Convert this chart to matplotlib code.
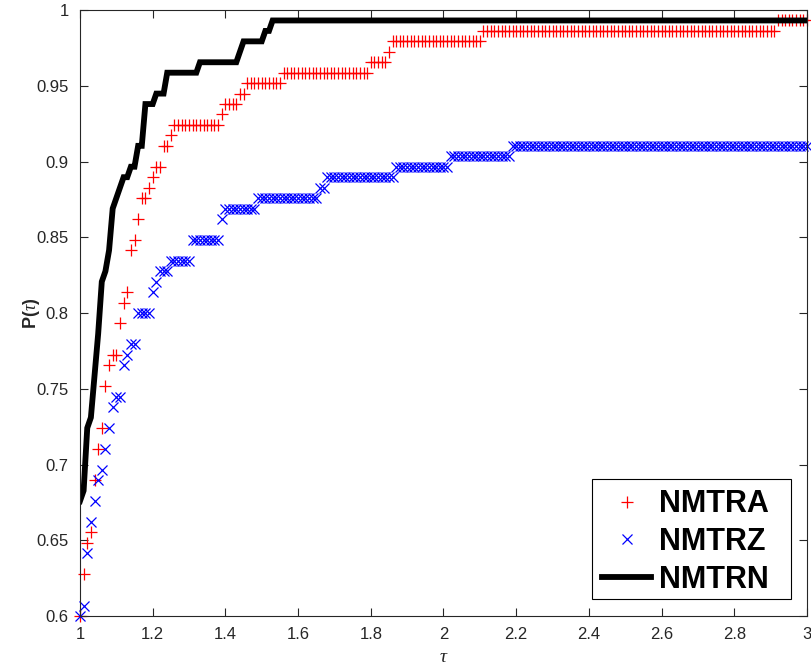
import numpy as np
import matplotlib
matplotlib.use('Agg')
import matplotlib.pyplot as plt
from matplotlib.patches import Rectangle
from matplotlib.ticker import FixedLocator, FixedFormatter

# Performance profile sampled on tau = 1:0.01:3, 145 test problems.
# Each series is stored as (solved count, number of consecutive tau points).
N_PROBLEMS = 145
TAU = np.round(np.arange(1.0, 3.0001, 0.01), 2)

nmtra_counts = [87, 91, 94, 95, 100, 103, 105, 109, 111, 112, 115, 117, 118, 122,
                123, 125, 127, 128, 129, 130, 132, 133, 134, 135, 136, 137, 138,
                139, 140, 141, 142, 143, 144]
nmtra_runs = [1, 1, 1, 1, 1, 1, 1, 1, 1, 2, 1, 1, 1, 1,
              1, 1, 2, 1, 1, 2, 2, 1, 13, 1, 4, 2, 10,
              24, 5, 1, 25, 81, 9]

nmtrz_counts = [87, 88, 93, 96, 98, 100, 101, 103, 105, 107, 108, 111, 112, 113,
                116, 118, 119, 120, 121, 123, 125, 126, 127, 128, 129, 130, 131, 132]
nmtrz_runs = [1, 1, 1, 1, 1, 1, 1, 1, 1, 1, 2, 1, 1, 2,
              4, 1, 1, 3, 6, 8, 1, 9, 17, 2, 19, 15, 17, 82]

nmtrn_counts = [98, 99, 105, 106, 110, 114, 119, 120, 122, 126, 127, 128, 129, 130,
                132, 136, 137, 139, 140, 141, 142, 143, 144]
nmtrn_runs = [1, 1, 1, 1, 1, 1, 1, 1, 1, 1, 1, 1, 2, 2,
              2, 3, 3, 9, 11, 1, 6, 2, 148]

x_ticks = [1, 1.2, 1.4, 1.6, 1.8, 2, 2.2, 2.4, 2.6, 2.8, 3]
x_labels = ['1', '1.2', '1.4', '1.6', '1.8', '2', '2.2', '2.4', '2.6', '2.8', '3']
y_ticks = [0.6, 0.65, 0.7, 0.75, 0.8, 0.85, 0.9, 0.95, 1]
y_labels = ['0.6', '0.65', '0.7', '0.75', '0.8', '0.85', '0.9', '0.95', '1']


def expand(counts, runs):
    return np.repeat(counts, runs) / N_PROBLEMS


plt.rcParams['font.family'] = ['Liberation Sans', 'DejaVu Sans']
plt.rcParams['mathtext.fontset'] = 'custom'
plt.rcParams['mathtext.it'] = 'Liberation Serif:italic'

AX_COLOR = '#262626'

fig = plt.figure(figsize=(8.12, 6.72), dpi=100)
ax = fig.add_axes([0.0985, 0.0833, 0.8953, 0.9018])

ax.plot(TAU, expand(nmtra_counts, nmtra_runs), linestyle='none', marker='+',
        color='#ff0000', markersize=9, markeredgewidth=0.9, clip_on=False,
        label='NMTRA')
ax.plot(TAU, expand(nmtrz_counts, nmtrz_runs), linestyle='none', marker='x',
        color='#0000ff', markersize=7, markeredgewidth=0.9, clip_on=False,
        label='NMTRZ')
ax.plot(TAU, expand(nmtrn_counts, nmtrn_runs), color='black', linewidth=4.2,
        solid_joinstyle='miter', label='NMTRN')

ax.set_xlim(1, 3)
ax.set_ylim(0.6, 1)
ax.xaxis.set_major_locator(FixedLocator(x_ticks))
ax.xaxis.set_major_formatter(FixedFormatter(x_labels))
ax.yaxis.set_major_locator(FixedLocator(y_ticks))
ax.yaxis.set_major_formatter(FixedFormatter(y_labels))

ax.tick_params(direction='in', length=6, width=0.8, colors=AX_COLOR,
               labelsize=12, top=True, right=True, pad=8)
for spine in ax.spines.values():
    spine.set_color(AX_COLOR)
    spine.set_linewidth(0.8)

ax.set_xlabel(r'$\tau$', fontsize=14, color=AX_COLOR, labelpad=5)
ax.set_ylabel(r'P($\tau$)', fontsize=13, fontweight='bold', color=AX_COLOR,
              labelpad=-4)

# MATLAB-style legend box: wider on the right than the content needs
box = Rectangle((0.7043, 0.028), 0.2737, 0.1983, transform=ax.transAxes,
                facecolor='white', edgecolor='black', linewidth=0.8, zorder=4)
ax.add_patch(box)
leg = ax.legend(loc='center', bbox_to_anchor=(0.8329, 0.1222),
                prop={'weight': 'bold', 'size': 22}, frameon=False,
                handlelength=1.6, handletextpad=0.25, labelspacing=0.25,
                borderpad=0.0, borderaxespad=0)
leg.set_zorder(5)

fig.savefig('out.png', dpi=100)
